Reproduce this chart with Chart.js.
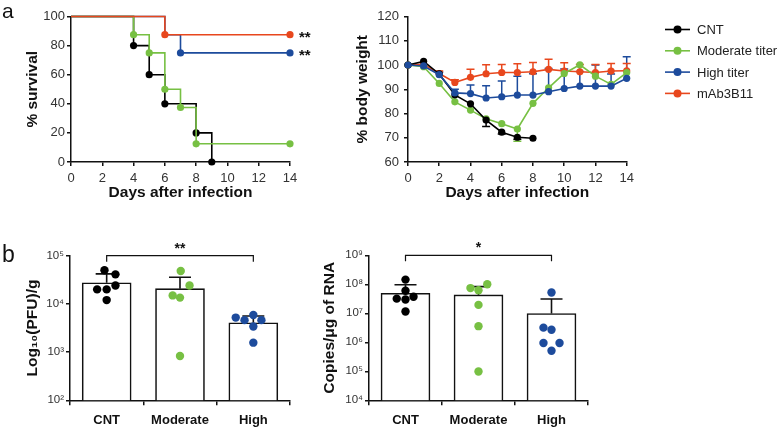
<!DOCTYPE html>
<html><head><meta charset="utf-8">
<script src="https://cdn.jsdelivr.net/npm/chart.js@4"></script>
<style>
html,body{margin:0;padding:0;background:#fff;}
#wrap{position:relative;width:779px;height:428px;overflow:hidden;font-family:"Liberation Sans",Arial,sans-serif;}
#wrap canvas{position:absolute;left:0;top:0;width:779px;height:428px;}
.lab{position:absolute;color:#111;line-height:1;}
</style></head><body>
<div id="wrap">
<canvas id="cSurv" width="779" height="428"></canvas>
<canvas id="cWeight" width="779" height="428"></canvas>
<canvas id="cPfu" width="779" height="428"></canvas>
<canvas id="cRna" width="779" height="428"></canvas>
<div class="lab" style="left:2px;top:0px;font-size:21px">a</div>
<div class="lab" style="left:2px;top:243px;font-size:23px">b</div>
</div>
<script>
// ---------------- DATA ----------------
const seriesNames = ['CNT', 'Moderate titer', 'High titer', 'mAb3B11'];
const xTicksDays = [0, 2, 4, 6, 8, 10, 12, 14];

// Survival (Kaplan-Meier steps): day, % survival
const survCNTx  = [0, 4, 5, 6, 8, 9];
const survCNTy  = [100, 80, 60, 40, 20, 0];
const survModx  = [0, 4, 5, 6, 7, 8, 14];
const survMody  = [100, 87.5, 75, 50, 37.5, 12.5, 12.5];
const survHighx = [0, 6, 7, 14];
const survHighy = [100, 87.5, 75, 75];
const survMabx  = [0, 6, 14];
const survMaby  = [100, 87.5, 87.5];
const survSigLevels = [87.5, 75];
const survSigText = ['**', '**'];

// Body weight (%), days 0..14
const wDays = [0,1,2,3,4,5,6,7,8,9,10,11,12,13,14];
const wCNT  = [100, 101.5, 96.3, 87.7, 84.0, 77.3, 72.3, 70.2, 69.8];
const wCNTErrDown = [0, 0, 0, 0, 0, 2.7, 0.8, 0.8, 0];
const wMod  = [100, 99.3, 92.4, 84.8, 81.4, 77.8, 75.8, 73.6, 84.2, 90.6, 96.5, 100.1, 95.4, 92.0, 96.9];
const wModErrDown = [0, 0, 0, 0, 0, 0, 0, 5.0, 0, 0, 0, 0, 0, 0, 0];
const wHigh = [100, 99.6, 96.0, 88.5, 88.2, 86.4, 86.9, 87.6, 87.6, 89.0, 90.3, 91.3, 91.3, 91.3, 94.5];
const wHighErrUp = [0, 0, 1.0, 1.5, 3.6, 5.0, 6.5, 7.8, 8.8, 9.6, 8.0, 6.0, 8.7, 5.0, 8.9];
const wMab  = [100, 100.3, 96.5, 92.8, 94.9, 96.4, 96.9, 96.9, 97.2, 98.2, 97.5, 97.2, 96.9, 97.5, 97.6];
const wMabErrUp = [0, 0, 1.0, 1.1, 3.3, 3.7, 3.3, 3.6, 3.8, 4.2, 3.4, 3.0, 3.3, 3.1, 3.0];

// Panel b
const groups = ['CNT', 'Moderate', 'High'];
const pfuMean  = [2.75e4, 2.07e4, 4.07e3];
const pfuUpper = [4.2e4, 3.56e4, 5.6e3];
const pfuCNT  = [5.0e4, 4.1e4, 2.0e4, 2.0e4, 2.4e4, 1.2e4];
const pfuMod  = [4.8e4, 1.5e4, 2.4e4, 1.35e4, 830];
const pfuHigh = [5.2e3, 4.6e3, 5.9e3, 4.6e3, 3.4e3, 1.57e3];
const pfuTicks = [1e2, 1e3, 1e4, 1e5];
const pfuSig = '**';

const rnaMean  = [4.9e7, 4.3e7, 9.8e6];
const rnaUpper = [9.6e7, 8.3e7, 3.1e7];
const rnaCNT  = [1.45e8, 6.0e7, 3.2e7, 3.0e7, 3.7e7, 1.15e7];
const rnaMod  = [7.4e7, 1.0e8, 6.2e7, 1.95e7, 3.6e6, 9.8e4];
const rnaHigh = [5.2e7, 3.2e6, 2.7e6, 9.5e5, 9.5e5, 5.1e5];
const rnaTicks = [1e4, 1e5, 1e6, 1e7, 1e8, 1e9];
const rnaSig = '*';

// ---------------- STYLE / LAYOUT ----------------
const F = '"Liberation Sans", Arial, Helvetica, sans-serif';
const COL = ['#000000', '#77c043', '#1d4b9c', '#e8471d'];
const INK = '#111';
const TICKC = '#333';
// dot horizontal jitter (layout only)
const jitPfu = [[-0.03, 0.12, -0.13, 0, 0.12, 0], [0.01, -0.1, 0.13, 0, 0], [-0.24, -0.12, 0, 0.11, 0, 0]];
const jitRna = [[0, 0, -0.12, 0, 0.11, 0], [-0.11, 0.12, 0, 0, 0, 0], [0, -0.11, 0, -0.11, 0.11, 0]];

Chart.defaults.font.family = F;
Chart.defaults.color = TICKC;
Chart.defaults.animation = false;
Chart.defaults.plugins.legend.display = false;
Chart.defaults.plugins.tooltip.enabled = false;

const W = 779, H = 428;
function layout(L, R, T, B, yBoxLeft, xBoxBottom) {
  return {
    padding: { left: yBoxLeft, top: T, right: W - R, bottom: H - xBoxBottom },
    yFit: s => { s.width = L - yBoxLeft; },
    xFit: s => { s.height = xBoxBottom - B; }
  };
}
function axisBase(tickLen) {
  return {
    border: { display: true, color: INK, width: 1.5 },
    grid: { drawOnChartArea: false, drawTicks: true, tickLength: tickLen, color: INK, lineWidth: 1.5 }
  };
}
const titleFont = { size: 15.5, weight: 'bold', family: F };
const xy = (xs, ys) => xs.map((x, i) => ({ x: x, y: ys[i] }));

// ---------------- SURVIVAL ----------------
const L1 = layout(71, 290, 16.5, 162, 23.7, 202.5);
function survDs(label, xs, ys, color, hideIdx, order) {
  return {
    label, data: xy(xs, ys), borderColor: color, backgroundColor: color,
    stepped: true, borderWidth: 1.6, clip: false, order,
    pointRadius: xs.map((x, i) => hideIdx.includes(i) ? 0 : 3.6),
    pointBackgroundColor: color, pointBorderWidth: 0
  };
}
new Chart(document.getElementById('cSurv'), {
  type: 'line',
  data: { datasets: [
    survDs(seriesNames[0], survCNTx, survCNTy, COL[0], [0], 3),
    survDs(seriesNames[1], survModx, survMody, COL[1], [0], 1),
    survDs(seriesNames[2], survHighx, survHighy, COL[2], [0, 1], 2),
    survDs(seriesNames[3], survMabx, survMaby, COL[3], [0], 0)
  ]},
  options: {
    responsive: false, layout: { padding: L1.padding },
    scales: {
      x: Object.assign(axisBase(4), {
        type: 'linear', min: 0, max: 14, afterFit: L1.xFit,
        afterBuildTicks: s => { s.ticks = xTicksDays.map(v => ({ value: v })); },
        ticks: { font: { size: 13 }, padding: 5, maxRotation: 0, color: TICKC },
        title: { display: true, text: 'Days after infection', font: titleFont, color: INK, padding: 0 }
      }),
      y: Object.assign(axisBase(4), {
        type: 'linear', min: 0, max: 100, afterFit: L1.yFit,
        ticks: { stepSize: 20, font: { size: 13 }, padding: 2, color: TICKC },
        title: { display: true, text: '% survival', font: titleFont, color: INK, padding: 0 }
      })
    }
  },
  plugins: [{
    id: 'survSig',
    afterDraw(chart) {
      const { ctx, scales: { x, y } } = chart;
      ctx.save();
      ctx.font = 'bold 15px ' + F; ctx.fillStyle = INK;
      ctx.textAlign = 'left'; ctx.textBaseline = 'middle';
      survSigLevels.forEach((lv, i) => ctx.fillText(survSigText[i], x.getPixelForValue(14) + 9, y.getPixelForValue(lv) + 3));
      ctx.restore();
    }
  }]
});

// ---------------- BODY WEIGHT ----------------
const L2 = layout(408, 626.7, 16.5, 162, 353.7, 202.5);
function wDs(label, ys, color, order, up, down) {
  return {
    label, data: xy(wDays.slice(0, ys.length), ys), borderColor: color, backgroundColor: color,
    borderWidth: 1.6, tension: 0, clip: false, order,
    pointRadius: 3.6, pointBackgroundColor: color, pointBorderWidth: 0,
    errUp: up, errDown: down
  };
}
new Chart(document.getElementById('cWeight'), {
  type: 'line',
  data: { datasets: [
    wDs(seriesNames[0], wCNT, COL[0], 1, null, wCNTErrDown),
    wDs(seriesNames[1], wMod, COL[1], 2, null, wModErrDown),
    wDs(seriesNames[2], wHigh, COL[2], 0, wHighErrUp, null),
    wDs(seriesNames[3], wMab, COL[3], 3, wMabErrUp, null)
  ]},
  options: {
    responsive: false, layout: { padding: L2.padding },
    scales: {
      x: Object.assign(axisBase(4), {
        type: 'linear', min: 0, max: 14, afterFit: L2.xFit,
        afterBuildTicks: s => { s.ticks = xTicksDays.map(v => ({ value: v })); },
        ticks: { font: { size: 13 }, padding: 5, maxRotation: 0, color: TICKC },
        title: { display: true, text: 'Days after infection', font: titleFont, color: INK, padding: 0 }
      }),
      y: Object.assign(axisBase(4), {
        type: 'linear', min: 60, max: 120, afterFit: L2.yFit,
        ticks: { stepSize: 10, font: { size: 13 }, padding: 5, color: TICKC },
        title: { display: true, text: '% body weight', font: titleFont, color: INK, padding: 0 }
      })
    }
  },
  plugins: [{
    id: 'wErr',
    beforeDatasetsDraw(chart) {
      const { ctx, scales: { x, y } } = chart;
      ctx.save(); ctx.lineWidth = 1.5;
      chart.data.datasets.forEach(ds => {
        ctx.strokeStyle = ds.borderColor;
        ds.data.forEach((p, j) => {
          [[ds.errUp, 1], [ds.errDown, -1]].forEach(([arr, sgn]) => {
            if (!arr || !arr[j]) return;
            const px = x.getPixelForValue(p.x), y0 = y.getPixelForValue(p.y), y1 = y.getPixelForValue(p.y + sgn * arr[j]);
            ctx.beginPath(); ctx.moveTo(px, y0); ctx.lineTo(px, y1);
            ctx.moveTo(px - 4, y1); ctx.lineTo(px + 4, y1); ctx.stroke();
          });
        });
      });
      ctx.restore();
    },
    afterDraw(chart) {
      const ctx = chart.ctx;
      ctx.save();
      ctx.font = '13px ' + F; ctx.textBaseline = 'middle'; ctx.textAlign = 'left';
      seriesNames.forEach((n, i) => {
        const yy = 29.5 + i * 21.3;
        ctx.strokeStyle = COL[i]; ctx.fillStyle = COL[i]; ctx.lineWidth = 1.6;
        ctx.beginPath(); ctx.moveTo(665, yy); ctx.lineTo(690, yy); ctx.stroke();
        ctx.beginPath(); ctx.arc(677.5, yy, 4, 0, Math.PI * 2); ctx.fill();
        ctx.fillStyle = '#222'; ctx.fillText(n, 697, yy + 1);
      });
      ctx.restore();
    }
  }]
});

// ---------------- BAR + DOTS (panel b) ----------------
const SUP = ['⁰','¹','²','³','⁴','⁵','⁶','⁷','⁸','⁹'];
function barChart(id, lay, mean, upper, dots, jit, ticks, yTitle, sig) {
  const ds = [{
    type: 'bar', data: mean.map((v, i) => ({ x: i, y: v })), order: 2,
    backgroundColor: '#ffffff', borderColor: INK, borderWidth: 1.6, barThickness: 49,
    errTop: upper
  }];
  dots.forEach((vals, g) => ds.push({
    type: 'scatter', data: vals.map((v, k) => ({ x: g + jit[g][k], y: v })), order: 1,
    pointRadius: 4.2, pointBackgroundColor: COL[g], pointBorderWidth: 0, clip: false
  }));
  return new Chart(document.getElementById(id), {
    type: 'bar',
    data: { datasets: ds },
    options: {
      responsive: false, layout: { padding: lay.padding },
      scales: {
        x: Object.assign(axisBase(5), {
          type: 'linear', min: -0.5, max: 2.5, offset: false, afterFit: lay.xFit,
          afterBuildTicks: s => { s.ticks = groups.map((g, i) => ({ value: i })); },
          ticks: { callback: v => groups[v], font: { size: 13, weight: 'bold' }, color: INK, padding: 7, maxRotation: 0, autoSkip: false }
        }),
        y: Object.assign(axisBase(4), {
          type: 'logarithmic', min: ticks[0], max: ticks[ticks.length - 1], afterFit: lay.yFit,
          afterBuildTicks: s => { s.ticks = ticks.map(v => ({ value: v })); },
          ticks: { callback: v => '10' + SUP[Math.round(Math.log10(v))], font: { size: 11.5 }, color: TICKC, padding: 2, autoSkip: false },
          title: { display: true, text: yTitle, font: titleFont, color: INK, padding: 0 }
        })
      }
    },
    plugins: [{
      id: 'errSig',
      afterDatasetDraw(chart, args) {
        if (args.index !== 0) return;
        const { ctx, scales: { x, y } } = chart;
        const d = chart.data.datasets[0];
        ctx.save(); ctx.strokeStyle = INK; ctx.lineWidth = 1.6;
        d.data.forEach((p, i) => {
          const px = x.getPixelForValue(p.x), y0 = y.getPixelForValue(p.y), y1 = y.getPixelForValue(d.errTop[i]);
          ctx.beginPath(); ctx.moveTo(px, y0); ctx.lineTo(px, y1);
          ctx.moveTo(px - 11, y1); ctx.lineTo(px + 11, y1); ctx.stroke();
        });
        ctx.restore();
      },
      afterDraw(chart) {
        const { ctx, scales: { x, y } } = chart;
        const yb = y.getPixelForValue(ticks[ticks.length - 1]);
        const xa = x.getPixelForValue(0), xb = x.getPixelForValue(2);
        ctx.save(); ctx.strokeStyle = INK; ctx.lineWidth = 1.2;
        ctx.beginPath(); ctx.moveTo(xa, yb + 6); ctx.lineTo(xa, yb); ctx.lineTo(xb, yb); ctx.lineTo(xb, yb + 6); ctx.stroke();
        ctx.font = 'bold 14px ' + F; ctx.fillStyle = INK; ctx.textAlign = 'center'; ctx.textBaseline = 'middle';
        ctx.fillText(sig, (xa + xb) / 2, yb - 7);
        ctx.restore();
      }
    }]
  });
}
barChart('cPfu', layout(70, 290, 255.7, 400.3, 23.7, 428), pfuMean, pfuUpper, [pfuCNT, pfuMod, pfuHigh], jitPfu, pfuTicks, 'Log₁₀(PFU)/g', pfuSig);
barChart('cRna', layout(369, 588, 255.3, 400.3, 320.5, 428), rnaMean, rnaUpper, [rnaCNT, rnaMod, rnaHigh], jitRna, rnaTicks, 'Copies/μg of RNA', rnaSig);
</script>
</body></html>
